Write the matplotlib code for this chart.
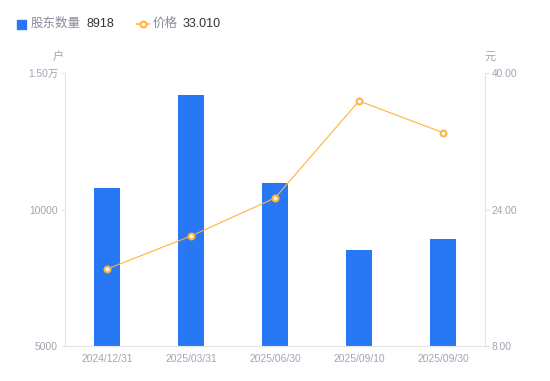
import numpy as np
import matplotlib
matplotlib.use('Agg')
import matplotlib.pyplot as plt
from matplotlib.lines import Line2D
from matplotlib.patches import Rectangle

plt.rcParams['font.family'] = ['Liberation Sans', 'Noto Sans CJK SC', 'DejaVu Sans']

# Datos
fechas = ['2024/12/31', '2025/03/31', '2025/06/30', '2025/09/10', '2025/09/30']
accionistas = [10790, 14190, 10970, 8520, 8918]
precios = [17.02, 20.89, 25.35, 36.72, 33.01]
ticks_izq = [5000, 10000, 15000]
etiquetas_izq = ['5000', '10000', '1.50万']
ticks_der = [8, 24, 40]
etiquetas_der = ['8.00', '24.00', '40.00']

AZUL = '#2878F5'
NARANJA = '#FFB43A'
GRIS_TXT = '#A3A3B5'
GRIS_EJE = '#E3E3E8'

fig = plt.figure(figsize=(5.5, 3.81), dpi=100)
ax = fig.add_axes([65/550, 35/381, 420/550, 273/381])
ax2 = ax.twinx()

x = np.arange(len(fechas))
ax.bar(x, accionistas, width=0.3, color=AZUL, zorder=2)
ax.set_xlim(-0.5, 4.5)
ax.set_ylim(5000, 15000)
ax.set_yticks(ticks_izq)
ax.set_yticklabels(etiquetas_izq)
ax.set_xticks(x)
ax.set_xticklabels(fechas)

ax2.plot(x, precios, color=NARANJA, lw=0.8, marker='o', ms=4.2,
         mfc='white', mec=NARANJA, mew=1.5, zorder=3)
ax2.set_ylim(8, 40)
ax2.set_yticks(ticks_der)
ax2.set_yticklabels(etiquetas_der)

# Ejes
for a in (ax, ax2):
    a.spines['top'].set_visible(False)
    for s in ('left', 'right', 'bottom'):
        a.spines[s].set_color(GRIS_EJE)
        a.spines[s].set_linewidth(0.8)
    a.tick_params(colors=GRIS_TXT, labelsize=7.4, length=3, width=0.8, pad=2)
    a.tick_params(axis='y', color=GRIS_EJE, labelcolor=GRIS_TXT)
ax.tick_params(axis='x', length=0, pad=6)
ax.spines['right'].set_visible(False)
ax2.spines['left'].set_visible(False)
ax2.spines['bottom'].set_visible(False)

# Unidades
fig.text(58/550, 1 - 57/381, '户', color=GRIS_TXT, fontsize=8, ha='center', va='center')
fig.text(490/550, 1 - 57/381, '元', color=GRIS_TXT, fontsize=8, ha='center', va='center')

# Leyenda
yl = 1 - 24/381
fig.add_artist(Rectangle((17/550, yl - 4.5/381), 9/550, 9/381, color=AZUL,
                         transform=fig.transFigure))
fig.text(31/550, yl, '股东数量', color='#8A8A9A', fontsize=9, va='center')
fig.text(86.5/550, yl, '8918', color='#333333', fontsize=9, va='center')
fig.add_artist(Line2D([137/550, 149/550], [yl, yl], color=NARANJA, lw=1.2,
                      transform=fig.transFigure))
fig.add_artist(Line2D([143/550], [yl], color=NARANJA, marker='o', ms=4.2,
                      mfc='white', mec=NARANJA, mew=1.5, transform=fig.transFigure))
fig.text(153/550, yl, '价格', color='#8A8A9A', fontsize=9, va='center')
fig.text(183/550, yl, '33.010', color='#333333', fontsize=9, va='center')

fig.savefig('out.png', dpi=100)
